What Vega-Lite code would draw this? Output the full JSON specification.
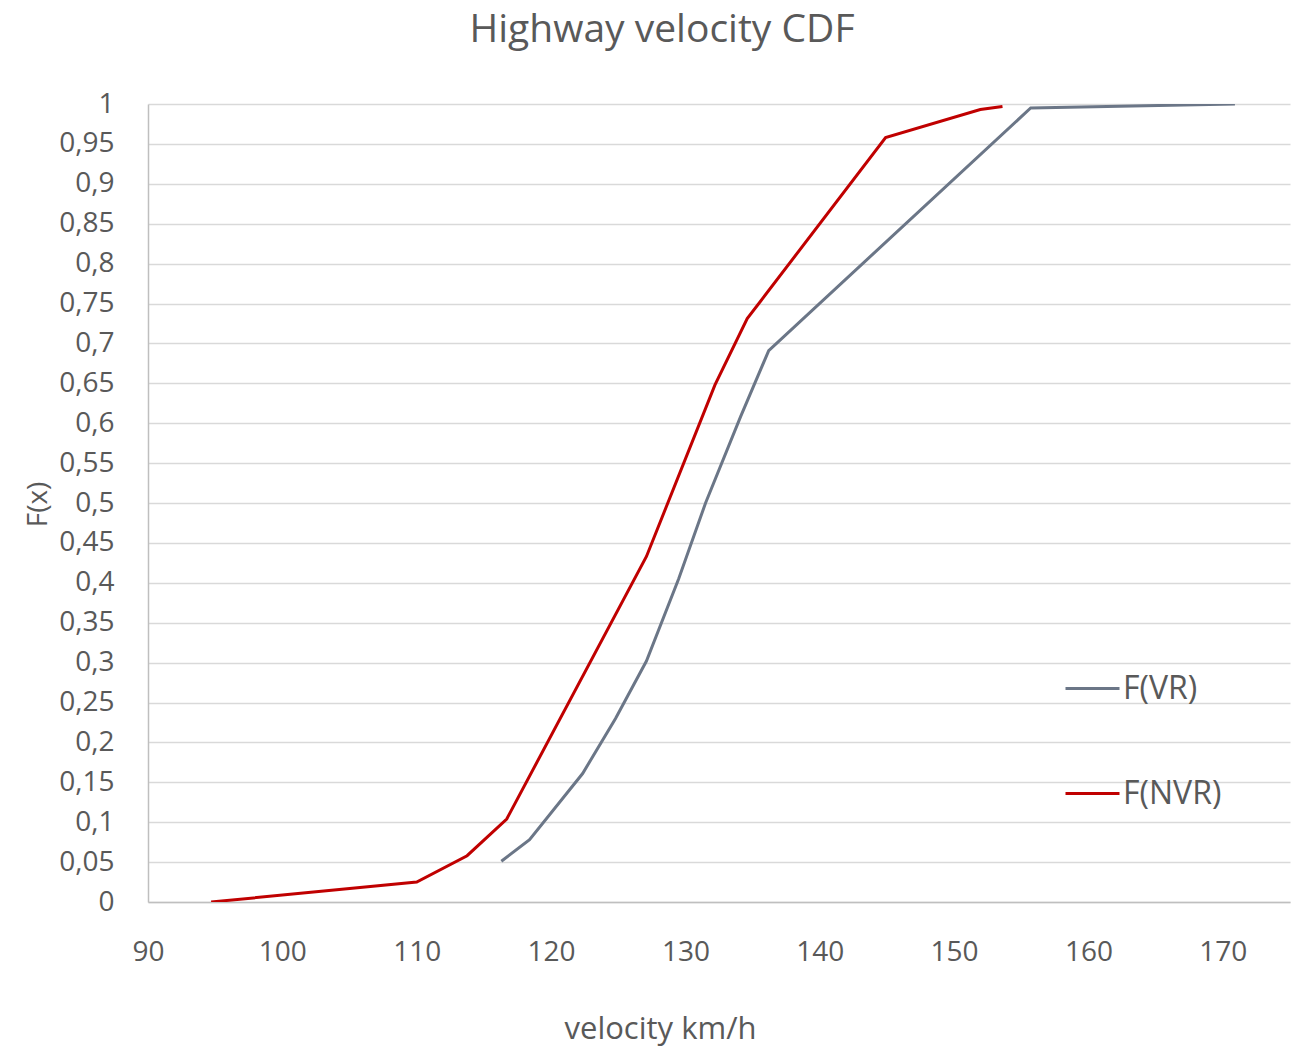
{
  "$schema": "https://vega.github.io/schema/vega-lite/v6.json",
  "width": 1142,
  "height": 798,
  "autosize": "none",
  "padding": {"left": 148, "top": 104, "right": 12, "bottom": 146},
  "background": "white",
  "title": {
    "text": "Highway velocity CDF",
    "fontSize": 39,
    "font": "Open Sans",
    "fontWeight": "normal",
    "color": "#595959",
    "anchor": "middle",
    "offset": 40,
    "dx": -57
  },
  "data": {
    "values": [
      {"series": "F(NVR)", "v": 94.7, "F": 0},
      {"series": "F(NVR)", "v": 110.0, "F": 0.025},
      {"series": "F(NVR)", "v": 113.75, "F": 0.058},
      {"series": "F(NVR)", "v": 116.7, "F": 0.104},
      {"series": "F(NVR)", "v": 127.1, "F": 0.433},
      {"series": "F(NVR)", "v": 132.2, "F": 0.648},
      {"series": "F(NVR)", "v": 134.6, "F": 0.731},
      {"series": "F(NVR)", "v": 144.9, "F": 0.958},
      {"series": "F(NVR)", "v": 151.95, "F": 0.993},
      {"series": "F(NVR)", "v": 153.6, "F": 0.997},
      {"series": "F(VR)", "v": 116.3, "F": 0.051},
      {"series": "F(VR)", "v": 118.4, "F": 0.078},
      {"series": "F(VR)", "v": 122.35, "F": 0.161},
      {"series": "F(VR)", "v": 124.8, "F": 0.23},
      {"series": "F(VR)", "v": 127.1, "F": 0.302},
      {"series": "F(VR)", "v": 129.5, "F": 0.405},
      {"series": "F(VR)", "v": 131.5, "F": 0.5},
      {"series": "F(VR)", "v": 134.1, "F": 0.608},
      {"series": "F(VR)", "v": 136.2, "F": 0.691},
      {"series": "F(VR)", "v": 155.7, "F": 0.995},
      {"series": "F(VR)", "v": 170.9, "F": 1.0}
    ]
  },
  "mark": {"type": "line", "strokeWidth": 3, "strokeJoin": "miter", "clip": true},
  "encoding": {
    "x": {
      "field": "v",
      "type": "quantitative",
      "scale": {"domain": [90, 175], "nice": false, "zero": false},
      "axis": {
        "title": "velocity km/h",
        "values": [90, 100, 110, 120, 130, 140, 150, 160, 170],
        "grid": false,
        "ticks": false,
        "domainColor": "#bfbfbf",
        "domainWidth": 1.5,
        "labelFont": "Open Sans",
        "labelFontSize": 28,
        "labelColor": "#595959",
        "labelPadding": 36,
        "labelFlush": false,
        "titleFont": "Open Sans",
        "titleFontSize": 31,
        "titleFontWeight": "normal",
        "titleColor": "#595959",
        "titlePadding": 48,
        "titleX": 512
      }
    },
    "y": {
      "field": "F",
      "type": "quantitative",
      "scale": {"domain": [0, 1], "nice": false},
      "axis": {
        "title": "F(x)",
        "values": [0, 0.05, 0.1, 0.15, 0.2, 0.25, 0.3, 0.35, 0.4, 0.45, 0.5, 0.55, 0.6, 0.65, 0.7, 0.75, 0.8, 0.85, 0.9, 0.95, 1],
        "labelExpr": "replace(format(datum.value, '.2~f'), '.', ',')",
        "grid": true,
        "gridColor": "#d9d9d9",
        "gridWidth": 1.5,
        "ticks": false,
        "domainColor": "#bfbfbf",
        "domainWidth": 1.5,
        "labelFont": "Open Sans",
        "labelFontSize": 28,
        "labelColor": "#595959",
        "labelPadding": 34,
        "labelFlush": false,
        "titleFont": "Open Sans",
        "titleFontSize": 28,
        "titleFontWeight": "normal",
        "titleColor": "#595959",
        "titleX": -96,
        "titleY": 400
      }
    },
    "color": {
      "field": "series",
      "type": "nominal",
      "scale": {"domain": ["F(VR)", "F(NVR)"], "range": ["#6b7687", "#c00000"]},
      "legend": {
        "title": null,
        "orient": "none",
        "legendX": 916,
        "legendY": 556,
        "padding": 0,
        "symbolType": "stroke",
        "symbolSize": 2916,
        "symbolStrokeWidth": 3,
        "labelFont": "Open Sans",
        "labelFontSize": 32,
        "labelColor": "#595959",
        "labelOffset": 2,
        "rowPadding": 60
      }
    }
  },
  "config": {"view": {"stroke": null}}
}
